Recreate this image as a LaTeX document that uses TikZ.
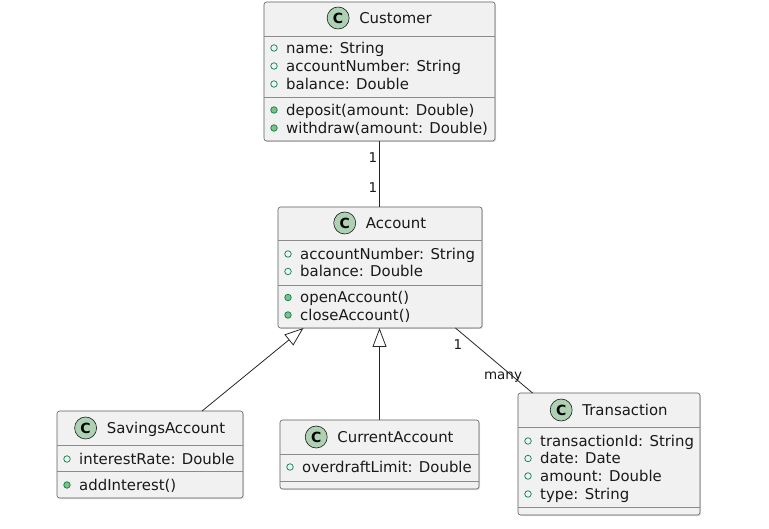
\documentclass[tikz,border=0pt]{standalone}
\usepackage{fontspec}
\setmainfont{DejaVu Sans}
\usetikzlibrary{arrows.meta,calc,shadows}
\definecolor{boxfill}{HTML}{F1F1F1}
\definecolor{boxline}{HTML}{181818}
\definecolor{circfill}{HTML}{ADD1B2}
\definecolor{visline}{HTML}{038048}
\definecolor{visfill}{HTML}{84BE84}
\newcommand\umember[5]{%
  \node[#4] (#1m) at (#2+10,#3) {};
  \node[member] (#1) at (#2+22,#3) {#5};}
\newcommand\utitle[4]{%
  \node[titletext] (#1) at (#2+16,#3) {#4};
  \node[cicon] (#1c) at ($(#1.west)+(-21,0)$) {C};}
\begin{document}
\begin{tikzpicture}[x=1pt,y=-1pt,
  classbox/.style={draw=boxline!70, line width=0.6pt, fill=boxfill, rounded corners=2.5pt,
    inner sep=0pt, outer sep=0pt, anchor=north west,
    drop shadow={shadow xshift=1pt,shadow yshift=-1pt,opacity=0.25}},
  divider/.style={draw=boxline!50, line width=0.6pt},
  member/.style={font=\fontsize{14.9}{18}\selectfont, text=black!90, inner sep=0pt, anchor=west,
    text height=11pt, text depth=0pt},
  titletext/.style={font=\fontsize{14.9}{18}\selectfont, text=black!90, inner sep=0pt, anchor=center,
    text height=11pt, text depth=0pt},
  fieldvis/.style={circle, draw=visline, line width=0.7pt, minimum size=6.5pt, inner sep=0pt},
  methodvis/.style={circle, draw=visline, line width=0.7pt, fill=visfill, minimum size=6.5pt, inner sep=0pt},
  cicon/.style={circle, draw=boxline, fill=circfill, line width=0.6pt, minimum size=22pt,
    inner sep=0pt, font=\bfseries\fontsize{14}{14}\selectfont},
  link/.style={draw=black!85, line width=0.8pt},
  inherit/.style={link, -{Triangle[open, length=19pt, width=14pt]}},
  mult/.style={font=\fontsize{13.5}{14}\selectfont, text=black!90, inner sep=0pt}]
\useasboundingbox (0,0) rectangle (769,529);

% Customer
\node[classbox, minimum width=231pt, minimum height=139pt] (customer) at (264,2) {};
\draw[divider] (customer.west |- 0,36) -- (customer.east |- 0,36);
\draw[divider] (customer.west |- 0,97) -- (customer.east |- 0,97);
\utitle{cut}{379.5}{18}{Customer}
\umember{cu1}{264}{48}{fieldvis}{name: String}
\umember{cu2}{264}{66}{fieldvis}{accountNumber: String}
\umember{cu3}{264}{84}{fieldvis}{balance: Double}
\umember{cu4}{264}{110}{methodvis}{deposit(amount: Double)}
\umember{cu5}{264}{128}{methodvis}{withdraw(amount: Double)}

% Account
\node[classbox, minimum width=204pt, minimum height=121pt] (account) at (278,207) {};
\draw[divider] (account.west |- 0,240) -- (account.east |- 0,240);
\draw[divider] (account.west |- 0,285) -- (account.east |- 0,285);
\utitle{act}{380}{223}{Account}
\umember{ac1}{278}{254}{fieldvis}{accountNumber: String}
\umember{ac2}{278}{271.5}{fieldvis}{balance: Double}
\umember{ac3}{278}{297.5}{methodvis}{openAccount()}
\umember{ac4}{278}{315}{methodvis}{closeAccount()}

% SavingsAccount
\node[classbox, minimum width=186pt, minimum height=87pt] (savings) at (57,411) {};
\draw[divider] (savings.west |- 0,445) -- (savings.east |- 0,445);
\draw[divider] (savings.west |- 0,471) -- (savings.east |- 0,471);
\utitle{sat}{150}{428}{SavingsAccount}
\umember{sa1}{57}{459}{fieldvis}{interestRate: Double}
\umember{sa2}{57}{485}{methodvis}{addInterest()}

% CurrentAccount
\node[classbox, minimum width=199pt, minimum height=69pt] (current) at (280,420) {};
\draw[divider] (current.west |- 0,454) -- (current.east |- 0,454);
\draw[divider] (current.west |- 0,481) -- (current.east |- 0,481);
\utitle{cat}{379.5}{437}{CurrentAccount}
\umember{ca1}{280}{467}{fieldvis}{overdraftLimit: Double}

% Transaction
\node[classbox, minimum width=182pt, minimum height=122pt] (transaction) at (518,393) {};
\draw[divider] (transaction.west |- 0,427) -- (transaction.east |- 0,427);
\draw[divider] (transaction.west |- 0,507) -- (transaction.east |- 0,507);
\utitle{trt}{609}{410}{Transaction}
\umember{tr1}{518}{441}{fieldvis}{transactionId: String}
\umember{tr2}{518}{458.5}{fieldvis}{date: Date}
\umember{tr3}{518}{476}{fieldvis}{amount: Double}
\umember{tr4}{518}{494}{fieldvis}{type: String}

% Connectors
\draw[link] (customer.south) -- (customer.south |- account.north);
\draw[inherit] ($(savings.north west)!0.78!(savings.north east)$) -- ($(account.south west)!0.125!(account.south east)$);
\draw[inherit] (current.north) -- (current.north |- account.south);
\draw[link] ($(account.south west)!0.87!(account.south east)$) -- ($(transaction.north west)!0.08!(transaction.north east)$);

% Multiplicities
\node[mult] (m1) at (373,158) {1};
\node[mult] (m2) at (373,188) {1};
\node[mult] (m3) at (458,345) {1};
\node[mult] (m4) at (503,377) {many};
\end{tikzpicture}
\end{document}
